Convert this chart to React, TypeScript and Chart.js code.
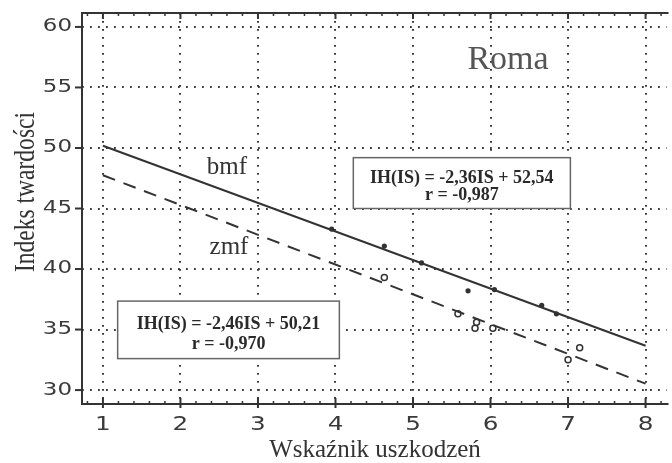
import React, { useEffect, useRef } from "react";
import { Chart, registerables } from "chart.js";

Chart.register(...registerables);

// Measured damage index vs. hardness index, Roma variety
const bmfX = [3.95, 4.63, 5.11, 5.71, 6.05, 6.66, 6.85];
const bmfY = [43.3, 41.9, 40.5, 38.2, 38.3, 37.0, 36.3];
const zmfX = [4.63, 5.58, 5.8, 5.82, 6.03, 7.0, 7.15];
const zmfY = [39.3, 36.3, 35.1, 35.6, 35.1, 32.5, 33.5];

// Fitted regression lines IH(IS) = a*IS + b
const bmfSlope = -2.36;
const bmfIntercept = 52.54;
const bmfR = "-0,987";
const zmfSlope = -2.46;
const zmfIntercept = 50.21;
const zmfR = "-0,970";
const fitRange = [1, 8];

const xTicks = [1, 2, 3, 4, 5, 6, 7, 8];
const yTicks = [30, 35, 40, 45, 50, 55, 60];

const title = "Roma";
const xTitle = "Wskaźnik uszkodzeń";
const yTitle = "Indeks twardości";

const fmt = (v: number) => v.toFixed(2).replace(".", ",");
const eqText = (a: number, b: number) =>
  `IH(IS) = ${fmt(a)}IS + ${fmt(b)}`;

const INK = "#333";
const SERIF = '"Liberation Serif", "DejaVu Serif", serif';
const SANS = '"DejaVu Sans", Lato, sans-serif';

// draws text widened horizontally around its anchor
const wideText = (ctx: any, text: string, x: number, y: number, sx: number) => {
  ctx.save();
  ctx.translate(x, y);
  ctx.scale(sx, 1);
  ctx.fillText(text, 0, 0);
  ctx.restore();
};

const decorPlugin = {
  id: "decor",
  afterDraw(chart: any) {
    const { ctx, chartArea, scales } = chart;
    const xs = scales.x;
    const ys = scales.y;
    const { left, top, right, bottom } = chartArea;
    ctx.save();

    // frame: left, top, bottom
    ctx.strokeStyle = INK;
    ctx.lineWidth = 2;
    ctx.beginPath();
    ctx.moveTo(right + 2, top);
    ctx.lineTo(left, top);
    ctx.lineTo(left, bottom);
    ctx.lineTo(right + 2, bottom);
    ctx.stroke();

    // y ticks (outside)
    yTicks.forEach((v) => {
      const py = ys.getPixelForValue(v);
      ctx.beginPath();
      ctx.moveTo(left - 7, py);
      ctx.lineTo(left, py);
      ctx.stroke();
    });

    // x major ticks crossing bottom, and on top
    xTicks.forEach((v) => {
      const px = xs.getPixelForValue(v);
      ctx.beginPath();
      ctx.moveTo(px, bottom + 4);
      ctx.lineTo(px, bottom - 6);
      ctx.moveTo(px, top);
      ctx.lineTo(px, top + 6);
      ctx.stroke();
    });
    // x minor ticks
    ctx.lineWidth = 1.5;
    for (let i = 0; i < 40; i++) {
      const v = 0.8 + i * 0.2;
      if (Math.abs(v - Math.round(v)) < 1e-6) continue;
      const px = xs.getPixelForValue(v);
      if (px < left || px > right) continue;
      ctx.beginPath();
      ctx.moveTo(px, bottom);
      ctx.lineTo(px, bottom - 3);
      ctx.moveTo(px, top);
      ctx.lineTo(px, top + 3);
      ctx.stroke();
    }

    // tick labels
    ctx.fillStyle = "#3a3a3a";
    ctx.font = `17px ${SANS}`;
    ctx.textAlign = "right";
    ctx.textBaseline = "middle";
    yTicks.forEach((v) => {
      wideText(ctx, String(v), left - 10, ys.getPixelForValue(v), 1.35);
    });
    ctx.textAlign = "center";
    ctx.font = `19px ${SANS}`;
    xTicks.forEach((v) => {
      wideText(ctx, String(v), xs.getPixelForValue(v), bottom + 21, 1.3);
    });

    // axis titles
    ctx.fillStyle = INK;
    ctx.textBaseline = "alphabetic";
    ctx.font = `25px ${SERIF}`;
    ctx.fillText(xTitle, 375, 457);
    ctx.save();
    ctx.font = `29px ${SERIF}`;
    const yw = ctx.measureText(yTitle).width;
    ctx.translate(34, 192);
    ctx.rotate(-Math.PI / 2);
    ctx.scale(160 / yw, 1);
    ctx.fillText(yTitle, 0, 0);
    ctx.restore();

    // panel title and series labels
    ctx.textBaseline = "middle";
    ctx.fillStyle = "#555";
    ctx.font = `34px ${SERIF}`;
    ctx.fillText(title, 508, 60);
    ctx.fillStyle = INK;
    ctx.font = `25px ${SERIF}`;
    ctx.fillText("bmf", 227, 167);
    ctx.fillText("zmf", 229, 247);

    // equation boxes
    const box = (x0: number, y0: number, x1: number, y1: number, l1: string, l2: string) => {
      const bx = xs.getPixelForValue(x0);
      const by = ys.getPixelForValue(y0);
      const bw = xs.getPixelForValue(x1) - bx;
      const bh = ys.getPixelForValue(y1) - by;
      ctx.fillStyle = "#fff";
      ctx.fillRect(bx, by, bw, bh);
      ctx.strokeStyle = "#666";
      ctx.lineWidth = 1.5;
      ctx.strokeRect(bx, by, bw, bh);
      ctx.fillStyle = "#2a2a2a";
      ctx.font = `bold 18px ${SERIF}`;
      ctx.textAlign = "center";
      const cx = bx + bw / 2;
      ctx.fillText(l1, cx, by + bh * 0.4);
      ctx.fillText(l2, cx, by + bh * 0.75);
    };
    box(4.23, 49.2, 7.03, 45.0, eqText(bmfSlope, bmfIntercept), `r = ${bmfR}`);
    box(1.19, 37.35, 4.05, 32.6, eqText(zmfSlope, zmfIntercept), `r = ${zmfR}`);

    ctx.restore();
  },
};

function App() {
  const ref = useRef<HTMLCanvasElement | null>(null);

  useEffect(() => {
    if (!ref.current) return;
    const line = (a: number, b: number) =>
      fitRange.map((x) => ({ x, y: a * x + b }));
    const gridOpts = {
      color: "#3a3a3a",
      lineWidth: 2,
      drawTicks: false,
    };
    const chart = new Chart(ref.current, {
      type: "scatter",
      data: {
        datasets: [
          {
            label: "bmf fit",
            data: line(bmfSlope, bmfIntercept),
            showLine: true,
            borderColor: INK,
            borderWidth: 2,
            pointRadius: 0,
          },
          {
            label: "zmf fit",
            data: line(zmfSlope, zmfIntercept),
            showLine: true,
            borderColor: INK,
            borderWidth: 2,
            borderDash: [13, 9],
            pointRadius: 0,
          },
          {
            label: "bmf",
            data: bmfX.map((x, i) => ({ x, y: bmfY[i] })),
            pointStyle: "circle",
            pointRadius: 2.6,
            backgroundColor: INK,
            borderColor: INK,
            borderWidth: 0,
          },
          {
            label: "zmf",
            data: zmfX.map((x, i) => ({ x, y: zmfY[i] })),
            pointStyle: "circle",
            pointRadius: 3,
            backgroundColor: "#fff",
            borderColor: INK,
            borderWidth: 1.5,
          },
        ],
      },
      options: {
        responsive: false,
        animation: false,
        layout: { padding: { top: 13, right: 0, left: 0, bottom: 0 } },
        plugins: {
          legend: { display: false },
          tooltip: { enabled: false },
        },
        scales: {
          x: {
            type: "linear",
            min: 0.73,
            max: 8.27,
            afterBuildTicks: (s: any) => {
              s.ticks = xTicks.map((v) => ({ value: v }));
            },
            afterFit: (s: any) => {
              s.height = 59;
            },
            ticks: { display: false },
            border: { display: false, dash: [1.8, 6.2] },
            grid: gridOpts,
          },
          y: {
            type: "linear",
            min: 28.85,
            max: 61.15,
            afterBuildTicks: (s: any) => {
              s.ticks = yTicks.map((v) => ({ value: v }));
            },
            afterFit: (s: any) => {
              s.width = 82;
            },
            ticks: { display: false },
            border: { display: false, dash: [1.8, 6.2] },
            grid: gridOpts,
          },
        },
      },
      plugins: [decorPlugin],
    } as any);
    return () => chart.destroy();
  }, []);

  return (
    <div
      style={{
        position: "fixed",
        left: 0,
        top: 0,
        width: 672,
        height: 463,
        background: "#fff",
        overflow: "hidden",
      }}
    >
      <canvas ref={ref} width={672} height={463} />
    </div>
  );
}

export default App;
